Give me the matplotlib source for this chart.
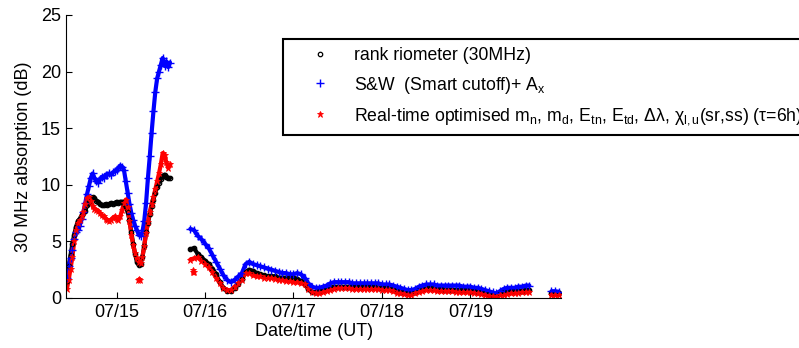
import numpy as np
import matplotlib
matplotlib.use('Agg')
import matplotlib.pyplot as plt

plt.rcParams['font.family'] = ['Liberation Sans', 'DejaVu Sans']
plt.rcParams['mathtext.fontset'] = 'custom'
plt.rcParams['mathtext.rm'] = 'Liberation Sans'
plt.rcParams['mathtext.it'] = 'Liberation Sans'
plt.rcParams['mathtext.default'] = 'regular'

# time in hours since 07/14 00:00 UT
t1 = np.arange(10.5, 38.6, 0.5)    # first interval, half-hourly
t2 = np.arange(44, 137, 1.0)       # second interval, hourly
t3 = [142, 143, 144]               # short piece at the end

# rank riometer (30MHz)
rio1 = [1.5, 2.8, 3.8, 4.8, 5.6, 6.3, 6.8, 7.0, 7.3, 7.5, 7.7, 8.2, 8.6, 8.8, 8.9, 8.8, 8.6, 8.5, 8.3, 8.2,
        8.2, 8.3, 8.2, 8.3, 8.4, 8.3, 8.4, 8.5, 8.4, 8.5, 8.5, 8.3, 8.0, 7.6, 6.9, 5.8, 4.8, 3.9, 3.2, 2.9,
        3.0, 3.6, 4.6, 5.8, 6.6, 7.4, 8.1, 8.7, 9.3, 9.8, 10.2, 10.5, 10.8, 10.9, 10.7, 10.6, 10.6]
rio2 = [4.3, 4.4, 3.9, 3.6, 3.3, 3.0, 2.6, 2.1, 1.4, 0.9, 0.6, 0.6, 0.9, 1.2, 1.7, 2.3, 2.5, 2.4, 2.2, 2.1,
        2.0, 1.9, 1.9, 1.9, 1.8, 1.8, 1.8, 1.8, 1.8, 1.7, 1.5, 1.2, 0.8, 0.5, 0.5, 0.6, 0.7, 0.8, 0.9, 1.0,
        1.0, 1.0, 1.0, 1.0, 1.0, 1.0, 1.0, 1.0, 0.95, 0.95, 0.95, 0.9, 0.9, 0.9, 0.85, 0.8, 0.65, 0.55, 0.5, 0.45,
        0.45, 0.55, 0.7, 0.8, 0.85, 0.85, 0.85, 0.8, 0.8, 0.75, 0.75, 0.75, 0.7, 0.7, 0.7, 0.7, 0.65, 0.6, 0.55, 0.5,
        0.45, 0.35, 0.3, 0.25, 0.4, 0.5, 0.55, 0.6, 0.6, 0.65, 0.65, 0.7, 0.7]
rio3 = [0.45, 0.45, 0.45]

# S&W (Smart cutoff) + Ax
sw1 = [1.8, 2.8, 3.5, 4.2, 5.2, 5.8, 6.0, 6.4, 7.0, 7.6, 8.4, 9.2, 9.9, 10.6, 11.0, 10.6, 10.3, 10.2, 10.5, 10.7,
       10.6, 10.9, 10.9, 11.0, 10.9, 11.1, 11.2, 11.3, 11.5, 11.7, 11.6, 11.3, 10.3, 9.3, 8.3, 7.5, 6.9, 6.4, 6.0, 5.6,
       5.5, 5.8, 6.8, 8.4, 10.6, 12.5, 14.6, 16.5, 18.2, 19.4, 20.0, 20.6, 21.2, 20.5, 20.9, 20.4, 20.8]
sw2 = [6.1, 6.0, 5.5, 5.2, 4.8, 4.4, 3.8, 3.2, 2.6, 2.0, 1.6, 1.4, 1.6, 1.9, 2.2, 3.0, 3.2, 3.0, 2.9, 2.8,
       2.7, 2.6, 2.5, 2.4, 2.3, 2.2, 2.2, 2.1, 2.1, 2.2, 2.1, 1.8, 1.3, 1.0, 0.9, 0.9, 1.0, 1.1, 1.3, 1.4,
       1.4, 1.4, 1.4, 1.4, 1.3, 1.3, 1.3, 1.3, 1.3, 1.3, 1.3, 1.3, 1.2, 1.2, 1.2, 1.1, 1.0, 0.9, 0.8, 0.7,
       0.7, 0.8, 1.0, 1.1, 1.2, 1.2, 1.2, 1.1, 1.1, 1.1, 1.1, 1.1, 1.1, 1.1, 1.0, 1.0, 1.0, 0.9, 0.9, 0.8,
       0.7, 0.6, 0.5, 0.4, 0.6, 0.8, 0.9, 0.9, 0.9, 1.0, 1.0, 1.1, 1.1]
sw3 = [0.6, 0.6, 0.55]

# real-time optimised model (tau = 6h)
rt1 = [0.8, 1.6, 2.6, 3.6, 5.0, 6.0, 6.6, 6.9, 7.2, 7.6, 8.3, 8.8, 8.9, 8.6, 8.1, 7.9, 7.8, 7.7, 7.5, 7.3,
       7.2, 7.0, 6.9, 6.8, 6.9, 7.1, 7.2, 7.0, 6.9, 7.2, 7.8, 8.4, 8.7, 8.0, 6.8, 5.6, 4.7, 4.0, 3.5, 3.2,
       3.1, 3.6, 4.6, 5.7, 6.7, 7.6, 8.3, 8.9, 9.6, 10.3, 11.0, 11.8, 12.8, 12.6, 12.0, 11.5, 11.8]
rt2 = [3.4, 3.5, 3.6, 3.3, 3.0, 2.7, 2.3, 1.8, 1.3, 0.9, 0.7, 0.7, 1.0, 1.3, 1.6, 2.2, 2.2, 2.0, 1.9, 1.9,
       1.8, 1.8, 1.8, 1.7, 1.6, 1.6, 1.5, 1.5, 1.4, 1.4, 1.3, 1.2, 0.8, 0.5, 0.4, 0.4, 0.5, 0.6, 0.7, 0.8,
       0.9, 0.9, 0.9, 0.9, 0.8, 0.8, 0.8, 0.8, 0.8, 0.8, 0.8, 0.8, 0.75, 0.7, 0.7, 0.6, 0.45, 0.4, 0.35, 0.3,
       0.3, 0.4, 0.5, 0.6, 0.7, 0.7, 0.7, 0.6, 0.6, 0.6, 0.6, 0.6, 0.55, 0.5, 0.5, 0.5, 0.5, 0.45, 0.4, 0.35,
       0.3, 0.2, 0.15, 0.1, 0.25, 0.3, 0.35, 0.4, 0.4, 0.45, 0.5, 0.5, 0.5]
rt3 = [0.3, 0.3, 0.3]
# a few stray red points
rt_out_t = [29.9, 30.1, 30.3, 44.6, 44.8, 45.0]
rt_out_v = [1.6, 1.7, 1.6, 2.3, 2.5, 2.3]

day_ticks = [24, 48, 72, 96, 120]
day_labels = ['07/15', '07/16', '07/17', '07/18', '07/19']

fig = plt.figure(figsize=(7.99, 3.48), dpi=100)
ax = fig.add_axes([0.0832, 0.1437, 0.6190, 0.8132])

segments = [(t1, rio1, sw1, rt1), (t2, rio2, sw2, rt2), (t3, rio3, sw3, rt3)]

# thick band under the markers so the dense sampling reads like the original
for t, a, b, c in segments:
    ax.plot(t, a, '-', lw=3.0, color='k', solid_capstyle='round')
    ax.plot(t, b, '-', lw=3.0, color='#0000ff', solid_capstyle='round')
    ax.plot(t, c, '-', lw=3.0, color='#ff0000', solid_capstyle='round')

t_all = np.concatenate([t1, t2, t3])
ax.plot(t_all, rio1 + rio2 + rio3, 'o', ms=3.2, mfc='none', mec='k', mew=0.9,
        label='rank riometer (30MHz)')
ax.plot(t_all, sw1 + sw2 + sw3, '+', ms=5.5, color='#0000ff', mew=1.0,
        label='S&W  (Smart cutoff)+ A$_x$')
ax.plot(np.concatenate([t_all, rt_out_t]), rt1 + rt2 + rt3 + rt_out_v, '*', ms=4.5, color='#ff0000', mew=0.6,
        label='Real-time optimised m$_n$, m$_d$, E$_{tn}$, E$_{td}$, $\\Delta\\lambda$, '
              '$\\chi_{l,u}$(sr,ss) ($\\tau$=6h)')

ax.set_xlim(10.4, 144.6)
ax.set_ylim(0, 25)
ax.set_xticks(day_ticks)
ax.set_xticklabels(day_labels)
ax.set_yticks([0, 5, 10, 15, 20, 25])
ax.spines['top'].set_visible(False)
ax.spines['right'].set_visible(False)
ax.tick_params(direction='in', length=4, labelsize=13, pad=4)
ax.set_xlabel('Date/time (UT)', fontsize=13, labelpad=2)
ax.set_ylabel('30 MHz absorption (dB)', fontsize=13, labelpad=6)

leg = fig.legend(loc='upper left', bbox_to_anchor=(283 / 799, 1 - 39 / 348), borderaxespad=0,
                 fontsize=12.7, frameon=True, fancybox=False, edgecolor='k', framealpha=1,
                 numpoints=1, handlelength=3.3, handletextpad=0.3, borderpad=0.45, labelspacing=0.6)
leg.get_frame().set_linewidth(1.5)

fig.savefig('out.png', dpi=100)
